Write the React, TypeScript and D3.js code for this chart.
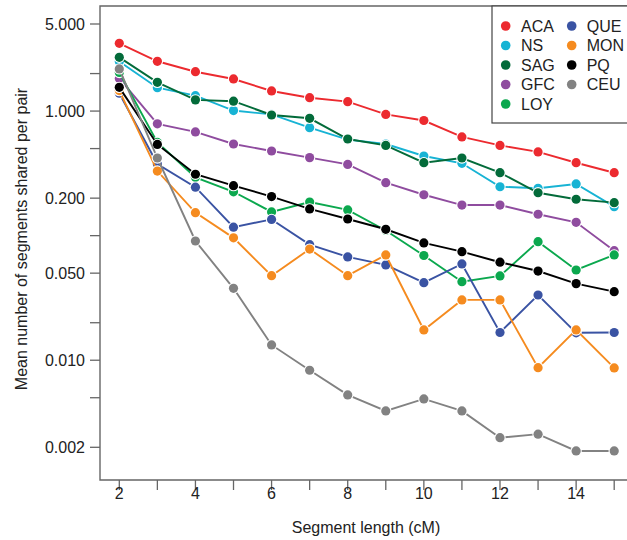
import React from "react";
import * as d3 from "d3";

const segmentLengths = [2, 3, 4, 5, 6, 7, 8, 9, 10, 11, 12, 13, 14, 15];

const ACA = [3.5, 2.51, 2.07, 1.81, 1.45, 1.28, 1.19, 0.94, 0.84, 0.62, 0.53, 0.47, 0.385, 0.32];
const NS = [2.5, 1.54, 1.33, 1.01, 0.94, 0.736, 0.59, 0.544, 0.436, 0.381, 0.247, 0.24, 0.26, 0.171];
const SAG = [2.7, 1.7, 1.23, 1.2, 0.93, 0.875, 0.597, 0.53, 0.385, 0.42, 0.32, 0.221, 0.196, 0.184];
const GFC = [1.83, 0.79, 0.68, 0.544, 0.478, 0.423, 0.373, 0.266, 0.213, 0.176, 0.176, 0.1485, 0.128, 0.0758];
const LOY = [2.04, 0.56, 0.294, 0.225, 0.155, 0.186, 0.161, 0.11, 0.0693, 0.0427, 0.0475, 0.0895, 0.053, 0.07];
const QUE = [1.39, 0.376, 0.245, 0.117, 0.135, 0.0847, 0.0675, 0.0582, 0.0419, 0.0593, 0.0167, 0.0334, 0.0166, 0.0167];
const MON = [1.46, 0.33, 0.153, 0.096, 0.0477, 0.078, 0.0477, 0.07, 0.0175, 0.0305, 0.0305, 0.00872, 0.0175, 0.00867];
const PQ = [1.55, 0.54, 0.311, 0.252, 0.206, 0.164, 0.136, 0.1125, 0.0874, 0.0744, 0.0612, 0.052, 0.0412, 0.0355];
const CEU = [2.18, 0.42, 0.0906, 0.0378, 0.01327, 0.00831, 0.00527, 0.00392, 0.00489, 0.00392, 0.00239, 0.00255, 0.00187, 0.00187];

const seriesNames = ["ACA", "NS", "SAG", "GFC", "LOY", "QUE", "MON", "PQ", "CEU"];
const seriesValues: Record<string, number[]> = { ACA, NS, SAG, GFC, LOY, QUE, MON, PQ, CEU };
const seriesColors: Record<string, string> = {
  ACA: "#ec2a2f",
  NS: "#17b3d4",
  SAG: "#036b3a",
  GFC: "#8f4c9f",
  LOY: "#0ba84e",
  QUE: "#3a53a3",
  MON: "#f58b1f",
  PQ: "#000000",
  CEU: "#828282",
};
const drawOrder = ["NS", "SAG", "GFC", "LOY", "QUE", "MON", "PQ", "CEU", "ACA"];
const legendCol1 = ["ACA", "NS", "SAG", "GFC", "LOY"];
const legendCol2 = ["QUE", "MON", "PQ", "CEU"];

const yMajorTicks = [5, 1, 0.2, 0.05, 0.01, 0.002];
const yTickLabels = ["5.000", "1.000", "0.200", "0.050", "0.010", "0.002"];
const yMinorTicks = [2, 0.5, 0.1, 0.02, 0.005];
const xTicks = d3.range(2, 16);
const xTickLabels = [2, 4, 6, 8, 10, 12, 14];

const FONT = "'Liberation Sans', Arial, Helvetica, sans-serif";
const TEXT = "#222";
const AXIS = "#666";

export default function App() {
  const W = 627;
  const H = 540;
  const frame = { left: 100, top: 6, bottom: 480, right: 640 };
  const x = d3.scaleLinear().domain([2, 15]).range([119.3, 614.2]);
  const y = d3.scaleLog().domain([5, 0.002]).range([24, 447.3]);
  const line = d3
    .line<number>()
    .x((_, i) => x(segmentLengths[i]))
    .y((d) => y(d));

  const legendRowY = (i: number) => 26 + i * 19.5;

  return (
    <div style={{ position: "fixed", left: 0, top: 0 }}>
      <svg width={W} height={H} style={{ display: "block", background: "#fff" }}>
        {/* frame */}
        <path
          d={`M${frame.right},${frame.top}H${frame.left}V${frame.bottom}H${frame.right}`}
          fill="none"
          stroke={AXIS}
          strokeWidth={1.4}
        />
        {/* y ticks */}
        {yMajorTicks.map((t, i) => (
          <g key={"ym" + i}>
            <line x1={90} x2={frame.left} y1={y(t)} y2={y(t)} stroke={AXIS} strokeWidth={1.3} />
            <text
              x={85}
              y={y(t)}
              dy="0.35em"
              textAnchor="end"
              fontFamily={FONT}
              fontSize={16}
              fill={TEXT}
            >
              {yTickLabels[i]}
            </text>
          </g>
        ))}
        {yMinorTicks.map((t, i) => (
          <line key={"yn" + i} x1={90} x2={frame.left} y1={y(t)} y2={y(t)} stroke={AXIS} strokeWidth={1.3} />
        ))}
        {/* x ticks */}
        {xTicks.map((t) => (
          <line key={"xt" + t} x1={x(t)} x2={x(t)} y1={frame.bottom} y2={frame.bottom + 10} stroke={AXIS} strokeWidth={1.3} />
        ))}
        {xTickLabels.map((t) => (
          <text
            key={"xl" + t}
            x={x(t)}
            y={499}
            textAnchor="middle"
            fontFamily={FONT}
            fontSize={16}
            fill={TEXT}
          >
            {t}
          </text>
        ))}
        <text x={366} y={533} textAnchor="middle" fontFamily={FONT} fontSize={16} fill={TEXT}>
          Segment length (cM)
        </text>
        <text
          transform="translate(27,239) rotate(-90)"
          textAnchor="middle"
          fontFamily={FONT}
          fontSize={16}
          fill={TEXT}
        >
          Mean number of segments shared per pair
        </text>

        {/* series */}
        {drawOrder.map((name) => {
          const vals = seriesValues[name];
          const c = seriesColors[name];
          return (
            <g key={name}>
              <path d={line(vals) || ""} fill="none" stroke={c} strokeWidth={1.9} />
              {vals.map((v, i) => (
                <circle
                  key={i}
                  cx={x(segmentLengths[i])}
                  cy={y(v)}
                  r={4.6}
                  fill={c}
                  stroke="#fff"
                  strokeWidth={2.2}
                  paintOrder="stroke"
                />
              ))}
            </g>
          );
        })}

        {/* legend */}
        <rect x={492} y={6} width={150} height={117} fill="#fff" stroke="#444" strokeWidth={1.2} />
        {legendCol1.map((n, i) => (
          <g key={"l1" + n}>
            <circle cx={505.7} cy={legendRowY(i)} r={4.8} fill={seriesColors[n]} />
            <text x={521} y={legendRowY(i)} dy="0.35em" fontFamily={FONT} fontSize={16} fill={TEXT}>
              {n}
            </text>
          </g>
        ))}
        {legendCol2.map((n, i) => (
          <g key={"l2" + n}>
            <circle cx={571.7} cy={legendRowY(i)} r={4.8} fill={seriesColors[n]} />
            <text x={586.7} y={legendRowY(i)} dy="0.35em" fontFamily={FONT} fontSize={16} fill={TEXT}>
              {n}
            </text>
          </g>
        ))}
        {seriesNames.length === 0 ? null : null}
      </svg>
    </div>
  );
}
